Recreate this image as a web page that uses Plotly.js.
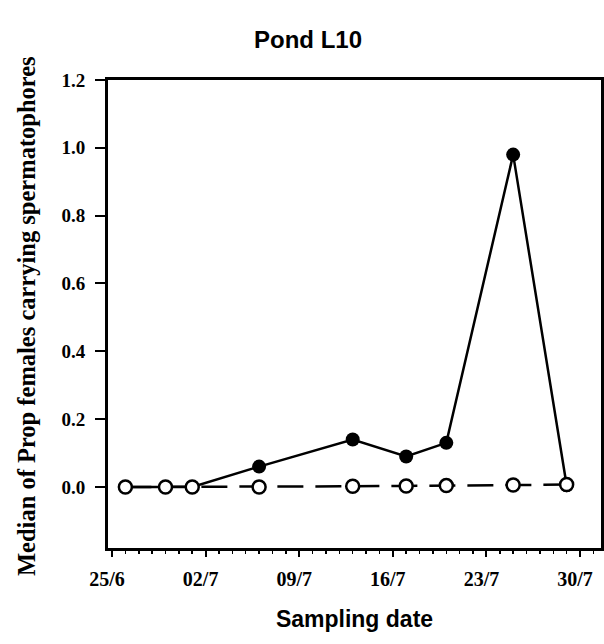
<!DOCTYPE html>
<html>
<head>
<meta charset="utf-8">
<script src="https://cdn.plot.ly/plotly-3.0.1.min.js"></script>
<style>html,body{margin:0;padding:0;background:#fff;}#chart{width:604px;height:644px;}</style>
</head>
<body>
<div id="chart"></div>
<script>
// Sampling dates
const dates = ['2007-06-26','2007-06-29','2007-07-01','2007-07-06','2007-07-13','2007-07-17','2007-07-20','2007-07-25','2007-07-29'];
// Series with filled markers (solid line)
const filledValues = [0, 0, 0, 0.06, 0.14, 0.09, 0.13, 0.98, 0.005];
// Series with open markers (dashed line)
const openValues = [0, 0, 0, 0, 0.002, 0.003, 0.004, 0.006, 0.007];
// Axis ticks
const xTickVals = ['2007-06-25','2007-07-02','2007-07-09','2007-07-16','2007-07-23','2007-07-30'];
const xTickText = ['25/6','02/7','09/7','16/7','23/7','30/7'];
const yTickVals = [0, 0.2, 0.4, 0.6, 0.8, 1.0, 1.2];
const yTickText = ['0.0','0.2','0.4','0.6','0.8','1.0','1.2'];
const yTitle = 'Median of Prop females carrying spermatophores';

const serifBold = '"Liberation Serif", "Times New Roman", serif';
const sansBold = '"Liberation Sans", Arial, sans-serif';

const traces = [
  {
    x: dates, y: filledValues, type: 'scatter', mode: 'lines+markers',
    line: {color: 'black', width: 2.5},
    marker: {symbol: 'circle', size: 14, color: 'black'},
    showlegend: false
  },
  {
    x: dates, y: openValues, type: 'scatter', mode: 'lines+markers',
    line: {color: 'black', width: 2.5, dash: '26px,12px'},
    marker: {symbol: 'circle', size: 13, color: 'white', line: {color: 'black', width: 2.5}},
    showlegend: false
  }
];

const layout = {
  width: 604, height: 644,
  margin: {l: 108, r: 3, t: 80, b: 96},
  paper_bgcolor: 'white', plot_bgcolor: 'white',
  title: {
    text: '<b>Pond L10</b>',
    font: {family: sansBold, size: 24, color: 'black'},
    x: 308/604, xanchor: 'center', xref: 'container',
    y: 1 - 40/644, yanchor: 'middle', yref: 'container'
  },
  xaxis: {
    type: 'date',
    range: ['2007-06-24 16:48', '2007-07-31 13:40'],
    tickmode: 'array', tickvals: xTickVals, ticktext: xTickText,
    ticks: 'outside', ticklen: 6, tickwidth: 2, tickcolor: 'black',
    minor: {dtick: 86400000, tick0: '2007-06-25', ticks: 'outside', ticklen: 3, tickwidth: 1.5, tickcolor: 'black', showgrid: false},
    showline: true, linewidth: 3, linecolor: 'black', mirror: true,
    showgrid: false, zeroline: false,
    ticklabelshift: -5, ticklabelstandoff: 5,
    tickfont: {family: serifBold, size: 20, color: 'black', weight: 'bold'},
    title: {text: '<b>Sampling date</b>', font: {family: sansBold, size: 23, color: 'black'}, standoff: 22}
  },
  yaxis: {
    range: [-0.18, 1.2],
    tickmode: 'array', tickvals: yTickVals, ticktext: yTickText,
    ticks: 'outside', ticklen: 10, tickwidth: 2, tickcolor: 'black',
    showline: true, linewidth: 3, linecolor: 'black', mirror: true,
    showgrid: false, zeroline: false,
    ticklabelstandoff: 6,
    tickfont: {family: serifBold, size: 19, color: 'black', weight: 'bold'}
  },
  annotations: [{
    text: '<b>' + yTitle + '</b>',
    xref: 'paper', yref: 'paper',
    x: (26 - 108) / 493, y: (548 - 316) / 468,
    xanchor: 'center', yanchor: 'middle',
    textangle: -90, showarrow: false,
    font: {family: serifBold, size: 24.5, color: 'black'}
  }]
};

Plotly.newPlot('chart', traces, layout, {displayModeBar: false, staticPlot: true});
</script>
</body>
</html>
